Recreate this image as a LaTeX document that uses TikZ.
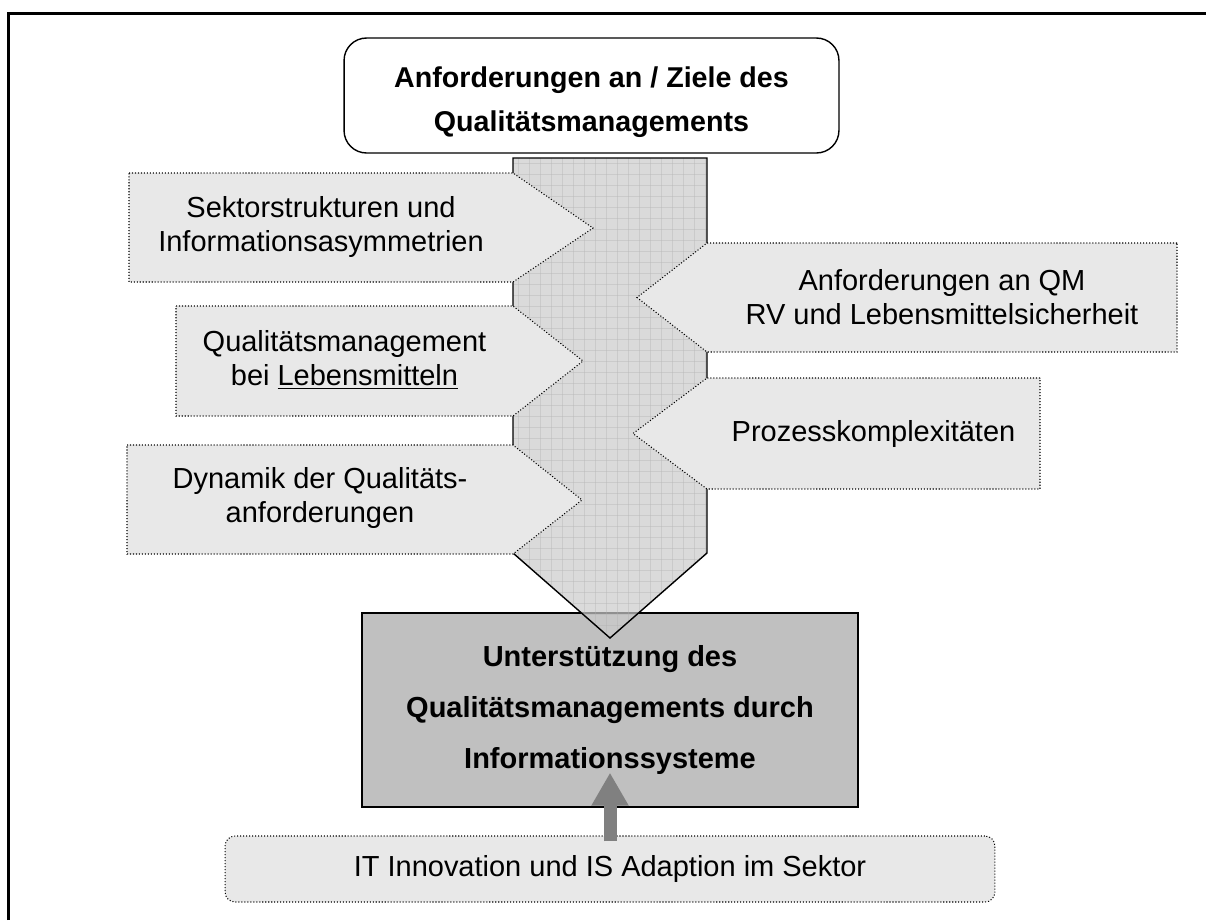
\documentclass[tikz,border=0pt]{standalone}
\usepackage{fontspec}
\setmainfont{Liberation Sans}
\usepackage{tikz}
\usetikzlibrary{positioning}
\usetikzlibrary{calc}
\usetikzlibrary{arrows.meta}
\definecolor{boxgray}{RGB}{232,232,232}
\definecolor{bandgray}{RGB}{203,203,203}
\definecolor{gridgray}{RGB}{175,175,175}
\definecolor{zielgray}{RGB}{192,192,192}
\definecolor{pfeilgray}{RGB}{128,128,128}
\tikzset{
    qm diagram/.style={
            x=0.02cm, y=-0.02cm,
            rahmen/.style={line width=1.2pt},
            titel/.style={draw, line width=0.8pt, rounded corners=0.45cm, fill=white,
                minimum width=9.9cm, minimum height=2.3cm, align=center,
                font=\bfseries\fontsize{16.3}{25}\selectfont},
            ziel/.style={draw, line width=0.8pt, fill=zielgray,
                minimum width=9.92cm, minimum height=3.88cm, align=center,
                font=\bfseries\fontsize{16.5}{29}\selectfont},
            sidebox/.style={draw=black, fill=boxgray, line width=0.6pt, dash pattern=on 0.6pt off 1.1pt},
            sidetext/.style={align=center, font=\fontsize{16.5}{19.3}\selectfont},
            itbox/.style={sidebox, rounded corners=0.2cm, minimum width=15.4cm, minimum height=1.32cm,
                font=\fontsize{16.5}{19.3}\selectfont},
            bandline/.style={draw=black, line width=0.8pt},
            gridline/.style={draw=gridgray, line width=0.4pt, opacity=0.35},
            hochpfeil/.style={draw=pfeilgray, line width=0.26cm,
                -{Triangle[width=0.7cm,length=0.66cm]}}
        }
    }
\begin{document}
\begin{tikzpicture}[qm diagram]
    \useasboundingbox (0,0) rectangle (1206,920);
    \draw[rahmen] (8.5,920) -- (8.5,13.5) -- (1206,13.5);
    \node[titel] (ziele) at (591.5,95.5) {};
    \node[align=center, font=\bfseries\fontsize{16.3}{25}\selectfont] (zieltext) at (591.5,102) {Anforderungen an / Ziele des\\Qualitätsmanagements};
    \node[ziel] (isunt) at (610,710) {Unterstützung des\\Qualitätsmanagements durch\\Informationssysteme};
    % breiter Pfeil
    \begin{scope}
        \clip (513,158) -- (707,158) -- (707,553) -- (610,638) -- (513,553) -- cycle;
        \fill[bandgray, fill opacity=0.71] (500,150) rectangle (720,650);
        \foreach \gx in {518,529,...,707} \draw[gridline] (\gx,158) -- (\gx,640);
        \foreach \gy in {163,174,...,640} \draw[gridline] (513,\gy) -- (707,\gy);
    \end{scope}
    \draw[bandline] (513,158) -- (707,158) -- (707,553) -- (610,638) -- (513,553) -- cycle;
    % linke Seite
    \draw[sidebox] (129,173) -- (513,173) -- (593,228) -- (513,282) -- (129,282) -- cycle;
    \node[sidetext] (sektor) at (321,227) {Sektorstrukturen und\\Informationsasymmetrien};
    \draw[sidebox] (176,306) -- (513,306) -- (583,361) -- (513,416) -- (176,416) -- cycle;
    \node[sidetext] (qmlm) at (344.5,360) {Qualitätsmanagement\\bei \underline{Lebensmitteln}};
    \draw[sidebox] (127,445) -- (513,445) -- (582,500) -- (513,554) -- (127,554) -- cycle;
    \node[sidetext] (dynamik) at (320,498) {Dynamik der Qualitäts-\\anforderungen};
    % rechte Seite
    \draw[sidebox] (1177,243) -- (707,243) -- (637,297.5) -- (707,352) -- (1177,352) -- cycle;
    \node[sidetext] (anfqm) at (942,297) {Anforderungen an QM\\RV und Lebensmittelsicherheit};
    \draw[sidebox] (1040,378) -- (707,378) -- (633,433.5) -- (707,489) -- (1040,489) -- cycle;
    \node[sidetext] (prozess) at (873.5,433.5) {Prozesskomplexitäten};
    % unten
    \node[itbox] (itinno) at (610,869) {IT Innovation und IS Adaption im Sektor};
    \draw[hochpfeil] ($(itinno.north)+(0,6)$) -- ($(isunt.south)+(0,-35)$);
\end{tikzpicture}
\end{document}
